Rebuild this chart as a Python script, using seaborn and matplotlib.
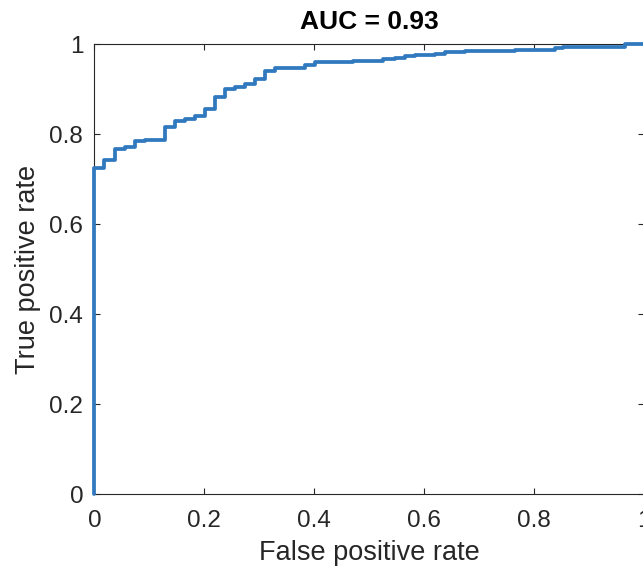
import matplotlib
matplotlib.use("Agg")
import matplotlib.pyplot as plt
import seaborn as sns
import pandas as pd

# ROC curve vertices (false positive rate, true positive rate)
fpr = [0, 0, 0.018, 0.038, 0.056, 0.074, 0.092, 0.129, 0.147, 0.165,
       0.183, 0.201, 0.219, 0.238, 0.256, 0.274, 0.292, 0.31, 0.329, 0.383,
       0.401, 0.47, 0.525, 0.547, 0.565, 0.583, 0.619, 0.638, 0.674, 0.765,
       0.838, 0.852, 0.965, 1.0]
tpr = [0, 0.724, 0.743, 0.768, 0.772, 0.784, 0.788, 0.817, 0.829, 0.835,
       0.841, 0.856, 0.882, 0.900, 0.904, 0.912, 0.922, 0.941, 0.948, 0.954,
       0.960, 0.963, 0.967, 0.970, 0.973, 0.976, 0.979, 0.982, 0.985, 0.988,
       0.991, 0.995, 1.0, 1.0]
auc_value = 0.93
tick_values = [0, 0.2, 0.4, 0.6, 0.8, 1]
tick_labels = ["0", "0.2", "0.4", "0.6", "0.8", "1"]

sns.set_theme(style="white")
plt.rcParams["font.family"] = ["Liberation Sans", "DejaVu Sans"]

roc = pd.DataFrame({"fpr": fpr, "tpr": tpr})

fig = plt.figure(figsize=(6.43, 5.70), dpi=100)
ax = fig.add_axes([0.1467, 0.1328, 0.8554, 0.7895])

sns.lineplot(data=roc, x="fpr", y="tpr", ax=ax, estimator=None, sort=False,
             drawstyle="steps-post", color="#3079BF", linewidth=2.7,
             clip_on=False, zorder=3)

ax.set_xlim(0, 1)
ax.set_ylim(0, 1)
ax.set_xticks(tick_values)
ax.set_xticklabels(tick_labels)
ax.set_yticks(tick_values)
ax.set_yticklabels(tick_labels)

edge = "#262626"
for side in ["left", "right", "top", "bottom"]:
    ax.spines[side].set_visible(True)
    ax.spines[side].set_color(edge)
    ax.spines[side].set_linewidth(0.8)

ax.tick_params(axis="both", which="major", direction="in", length=4,
               width=0.8, color=edge, labelcolor="#262626", labelsize=17.5,
               top=True, right=True, bottom=True, left=True)
ax.tick_params(axis="x", pad=11)
ax.tick_params(axis="y", pad=8)

ax.set_xlabel("False positive rate", fontsize=19.5, color="#262626", labelpad=6)
ax.set_ylabel("True positive rate", fontsize=19.5, color="#262626", labelpad=6)
ax.set_title(f"AUC = {auc_value:.2f}", fontsize=19, fontweight="bold",
             color="black", pad=11)

fig.savefig("out.png", dpi=100)
